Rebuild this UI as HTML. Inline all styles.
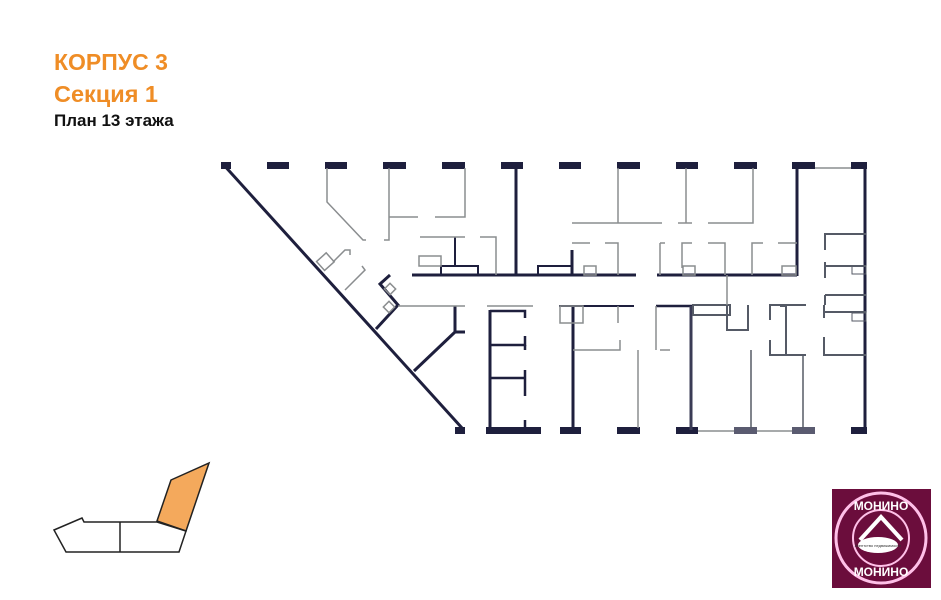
<!DOCTYPE html>
<html><head><meta charset="utf-8"><style>
html,body{margin:0;padding:0;background:#fff;}
body{width:941px;height:600px;position:relative;overflow:hidden;font-family:"Liberation Sans",sans-serif;}
.t{position:absolute;left:54px;font-weight:bold;white-space:nowrap;}
</style></head><body>
<div class="t" style="top:49px;font-size:23px;color:#ef8d26;">КОРПУС 3</div>
<div class="t" style="top:81px;font-size:23.5px;color:#ef8d26;">Секция 1</div>
<div class="t" style="top:111px;font-size:17px;color:#111;">План 13 этажа</div>
<svg width="941" height="600" style="position:absolute;left:0;top:0" xmlns="http://www.w3.org/2000/svg">
<g fill="#1e1f3d">
<rect x="221" y="162" width="10" height="7"/>
<rect x="267" y="162" width="22" height="7"/><rect x="325" y="162" width="22" height="7"/>
<rect x="383" y="162" width="23" height="7"/><rect x="442" y="162" width="23" height="7"/>
<rect x="501" y="162" width="22" height="7"/><rect x="559" y="162" width="22" height="7"/>
<rect x="617" y="162" width="23" height="7"/><rect x="676" y="162" width="22" height="7"/>
<rect x="734" y="162" width="23" height="7"/><rect x="792" y="162" width="23" height="7"/>
<rect x="851" y="162" width="16" height="7"/>
<rect x="455" y="427" width="10" height="7"/>
<rect x="486" y="427" width="55" height="7"/><rect x="560" y="427" width="21" height="7"/>
<rect x="617" y="427" width="23" height="7"/><rect x="676" y="427" width="22" height="7"/>
<rect x="734" y="427" width="23" height="7" fill="#5a5b70"/><rect x="792" y="427" width="23" height="7" fill="#5a5b70"/>
<rect x="851" y="427" width="16" height="7"/>
</g>
<g stroke="#1e1f3d" stroke-width="3" fill="none">
<line x1="222" y1="163" x2="462" y2="428"/>
<line x1="865" y1="162" x2="865" y2="433"/>
<line x1="797" y1="165" x2="797" y2="276"/>
<line x1="516" y1="168" x2="516" y2="275"/>
<line x1="412" y1="275" x2="636" y2="275"/>
<line x1="657" y1="275" x2="797" y2="275"/>
<line x1="572" y1="250" x2="572" y2="275"/>
<rect x="441" y="266" width="37" height="9" stroke-width="2"/>
<rect x="538" y="266" width="34" height="9" stroke-width="2"/>
<line x1="455" y1="237" x2="455" y2="266" stroke-width="2"/>
<polyline points="390,275 380,284 398,305 376,329"/>
<polyline points="455,306 455,332 465,332"/>
<line x1="455" y1="332" x2="414" y2="371"/>
<line x1="490" y1="310" x2="490" y2="428"/>
<polyline points="490,311 525,311 525,318" stroke-width="2.5"/>
<polyline points="490,345 525,345 525,336" stroke-width="2.5"/><line x1="525" y1="345" x2="525" y2="350" stroke-width="2.5"/>
<polyline points="490,378 525,378" stroke-width="2.5"/><line x1="525" y1="370" x2="525" y2="396" stroke-width="2.5"/>
<line x1="525" y1="420" x2="525" y2="428" stroke-width="2.5"/>
<line x1="559" y1="306" x2="634" y2="306" stroke-width="2"/>
<line x1="573" y1="306" x2="573" y2="430"/>
<line x1="656" y1="306" x2="692" y2="306" stroke-width="2.5"/>
<line x1="691" y1="306" x2="691" y2="430" stroke="#3a3b55"/>
</g>
<g stroke="#555a66" stroke-width="2" fill="none">
<rect x="693" y="305" width="37" height="10"/>
<polyline points="727,306 727,330 748,330 748,305"/>
<polyline points="770,320 770,305 806,305"/><polyline points="770,340 770,355 806,355"/>
<polyline points="780,306 786,306 786,355"/>
<polyline points="824,318 824,305"/><polyline points="824,337 824,355 866,355"/><line x1="824" y1="312" x2="866" y2="312"/>
<line x1="751" y1="350" x2="751" y2="428" stroke-width="1.5"/>
<line x1="803" y1="355" x2="803" y2="428" stroke-width="1.5"/>
<polyline points="825,250 825,234 866,234"/>
<polyline points="825,262 825,278"/><line x1="825" y1="266" x2="866" y2="266"/>
<polyline points="825,295 825,305"/><line x1="825" y1="295" x2="866" y2="295"/>
<rect x="852" y="266" width="14" height="8" stroke-width="1"/>
<rect x="852" y="313" width="14" height="8" stroke-width="1"/>
</g>
<g stroke="#8a8d8f" stroke-width="1.5" fill="none">
<polyline points="327,168 327,202 363,240 366,240"/>
<polyline points="389,168 389,240 384,240"/><line x1="389" y1="217" x2="418" y2="217"/>
<polyline points="435,217 465,217 465,168"/>
<line x1="420" y1="237" x2="465" y2="237"/>
<polyline points="480,237 496,237 496,275"/>
<rect x="419" y="256" width="22" height="10"/>
<rect x="319" y="256" width="13" height="12" transform="rotate(-42 325 262)"/>
<polyline points="333,262 345,250 350,250 350,255"/>
<polyline points="345,290 365,270 362,266"/>
<rect x="386" y="285" width="8" height="8" transform="rotate(45 390 289)"/>
<rect x="385" y="303" width="8" height="8" transform="rotate(45 389 307)"/>
<line x1="398" y1="306" x2="465" y2="306"/>
<line x1="487" y1="306" x2="533" y2="306"/>
<rect x="560" y="306" width="23" height="17"/>
<line x1="618" y1="306" x2="618" y2="323"/>
<polyline points="573,350 620,350 620,340"/>
<line x1="638" y1="350" x2="638" y2="428"/>
<line x1="656" y1="306" x2="656" y2="350"/>
<line x1="660" y1="350" x2="670" y2="350"/>
<line x1="727" y1="275" x2="727" y2="305"/>
<line x1="572" y1="223" x2="662" y2="223"/><line x1="618" y1="168" x2="618" y2="223"/>
<line x1="686" y1="168" x2="686" y2="223"/><line x1="678" y1="223" x2="692" y2="223"/>
<polyline points="708,223 753,223 753,168"/>
<polyline points="572,243 590,243"/><polyline points="605,243 618,243 618,275"/>
<polyline points="660,243 665,243"/><polyline points="660,243 660,275"/>
<polyline points="682,268 682,243 692,243"/>
<polyline points="708,243 725,243 725,275"/>
<polyline points="752,275 752,243 763,243"/>
<line x1="778" y1="243" x2="797" y2="243"/>
<rect x="584" y="266" width="12" height="9"/><rect x="683" y="266" width="12" height="9"/>
<rect x="782" y="266" width="14" height="9"/>
<line x1="815" y1="168" x2="851" y2="168"/>
<line x1="698" y1="431" x2="734" y2="431"/><line x1="757" y1="431" x2="792" y2="431"/>
</g>
<g stroke="#222" stroke-width="1.5">
<polygon points="157,521 171,480 209,463 186,531" fill="#f4a95c"/>
<polygon points="54,530 82,518 84,522 157,522 186,531 179,552 66,552" fill="none"/>
<line x1="120" y1="522" x2="120" y2="552"/>
</g>
<rect x="832" y="489" width="99" height="99" fill="#6b0d3c"/>
<circle cx="881" cy="538" r="45" fill="none" stroke="#ffc0e8" stroke-width="3"/>
<circle cx="881" cy="538" r="28" fill="none" stroke="#ffc0e8" stroke-width="2"/>
<polyline points="860,540 881,517 902,540" fill="none" stroke="#fff" stroke-width="4"/>
<ellipse cx="878" cy="545" rx="20" ry="8" fill="#fff"/>
<text x="881" y="510" text-anchor="middle" font-family="Liberation Sans" font-weight="bold" font-size="12" fill="#fff">МОНИНО</text>
<text x="881" y="576" text-anchor="middle" font-family="Liberation Sans" font-weight="bold" font-size="12" fill="#fff">МОНИНО</text>
<text x="878" y="547" text-anchor="middle" font-family="Liberation Sans" font-size="4" fill="#333">Агентство недвижимости</text>
</svg>
</body></html>
